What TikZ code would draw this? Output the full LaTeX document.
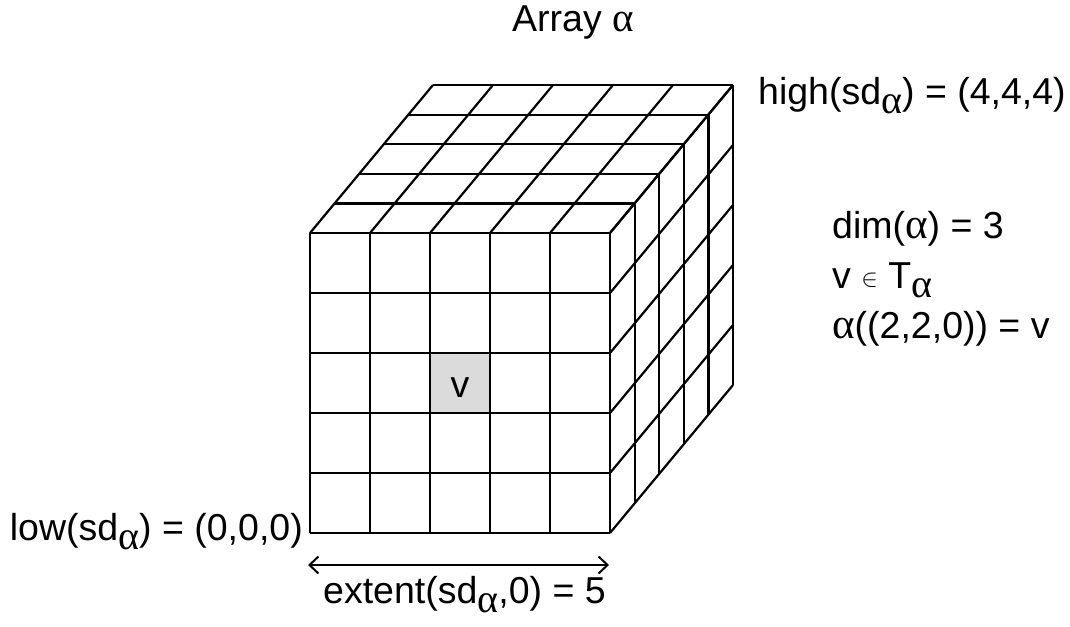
\documentclass[tikz,border=0pt]{standalone}
\usepackage{fontspec}
\setmainfont{Liberation Sans}
\newfontfamily\grk{Liberation Serif}
\usetikzlibrary{arrows.meta}
\newcommand{\al}{{\fontsize{43}{43}\selectfont\grk α}}
\newcommand{\tal}{{\fontsize{41}{41}\selectfont\grk α}}
\newcommand{\sal}{\raisebox{-9pt}{\fontsize{40}{40}\selectfont\grk α}}
\newcommand{\elem}{\raisebox{2pt}{\fontsize{36}{36}\selectfont$\in$}}
\begin{document}
\begin{tikzpicture}[x=1pt,y=-1pt,
  gridline/.style={line width=2.2pt, line join=miter},
  lbl/.style={font=\fontsize{37.5}{45}\selectfont, inner sep=0pt},
  barb/.style={line width=2pt, {Straight Barb[length=9pt,width=17pt]}-{Straight Barb[length=9pt,width=17pt]}}]
\useasboundingbox (0,0) rectangle (1070,626);
\def\dx{24.6}\def\dy{-29.6}
% shaded cell
\fill[black!14] (430,353) rectangle (490,413);
% front face
\foreach \i in {0,...,5}{
  \draw[gridline] (310+60*\i,233) -- (310+60*\i,533);
  \draw[gridline] (310,233+60*\i) -- (610,233+60*\i);
}
% top face
\foreach \k in {0,...,5}{
  \draw[gridline] (310+\k*\dx,233+\k*\dy) -- (610+\k*\dx,233+\k*\dy);
  \draw[gridline] (310+60*\k,233) -- (310+60*\k+5*\dx,233+5*\dy);
}
% right face
\foreach \k in {0,...,5}{
  \draw[gridline] (610+\k*\dx,233+\k*\dy) -- (610+\k*\dx,533+\k*\dy);
  \draw[gridline] (610,233+60*\k) -- (610+5*\dx,233+60*\k+5*\dy);
}
\node[lbl, anchor=base] (v) at (460,397) {v};
% labels
\node[lbl, anchor=base west] (title) at (512,32) {Array \tal};
\node[lbl, anchor=base west] (high) at (758,104) {high(sd\sal) = (4,4,4)};
\node[lbl, anchor=base west] (dim) at (832,238) {dim(\al) = 3};
\node[lbl, anchor=base west] (elem) at (832,288) {v \elem\ T\sal};
\node[lbl, anchor=base west] (map) at (832,338) {\al((2,2,0)) = v};
\node[lbl, anchor=base east] (low) at (303,540) {low(sd\sal) = (0,0,0)};
\node[lbl, anchor=base west] (ext) at (323,603) {extent(sd\sal,0) = 5};
\coordinate (aL) at (308,565);
\coordinate (aR) at (609,565);
\draw[barb] (aL) -- (aR);
\end{tikzpicture}
\end{document}
